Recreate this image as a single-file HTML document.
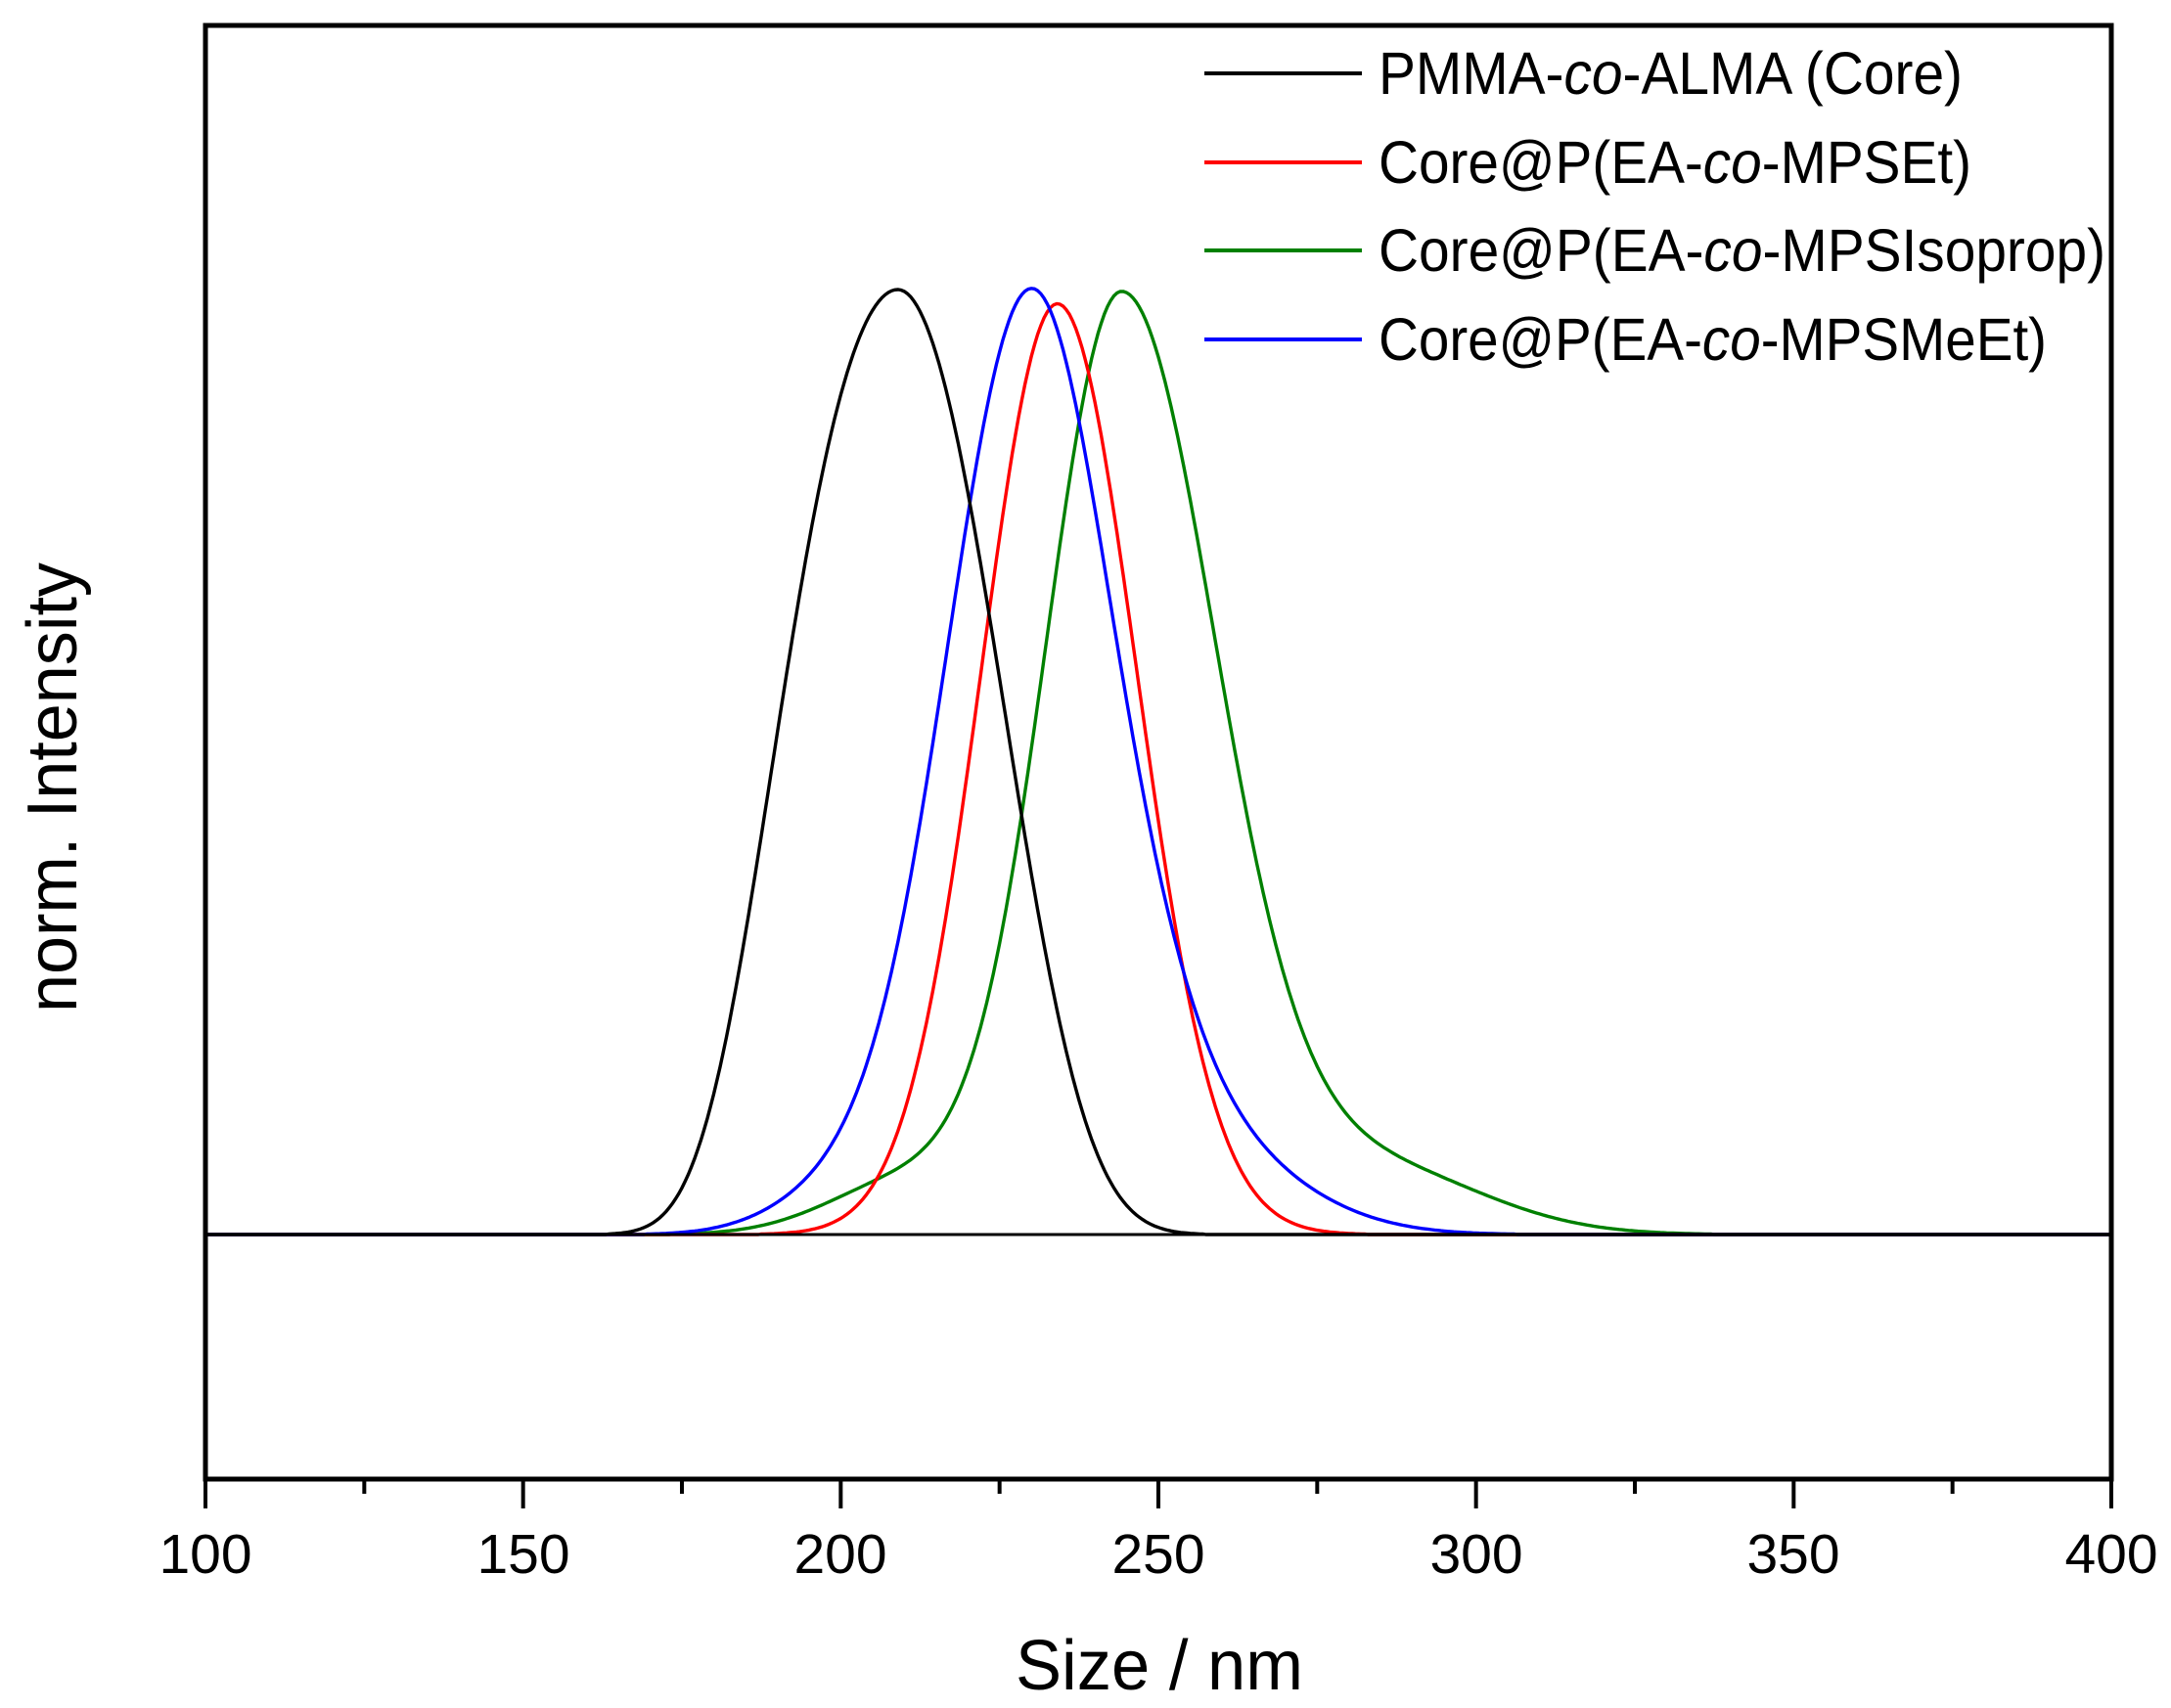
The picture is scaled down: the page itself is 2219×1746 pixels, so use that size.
<!DOCTYPE html>
<html><head><meta charset="utf-8"><style>html,body{margin:0;padding:0;background:#fff}svg{display:block}</style></head>
<body>
<svg id="s" width="2219" height="1746" viewBox="0 0 2219 1746" xmlns="http://www.w3.org/2000/svg" font-family="Liberation Sans, Arial, sans-serif">
<rect width="2219" height="1746" fill="#fff"/>
<g id="curves" fill="none" stroke-width="3.4"></g>
<line x1="210" y1="1262" x2="2158" y2="1262" stroke="#000" stroke-width="3"/>
<rect x="210" y="26" width="1948" height="1486" fill="none" stroke="#000" stroke-width="5"/>
<g id="ticks" stroke="#000" stroke-width="4"></g>
<g font-size="57" text-anchor="middle" fill="#000">
<text x="210" y="1608">100</text><text x="535" y="1608">150</text><text x="859" y="1608">200</text>
<text x="1184" y="1608">250</text><text x="1509" y="1608">300</text><text x="1833" y="1608">350</text><text x="2158" y="1608">400</text>
</g>
<text x="1185" y="1727" font-size="72" text-anchor="middle" textLength="294" lengthAdjust="spacingAndGlyphs">Size / nm</text>
<text transform="translate(78,805) rotate(-90)" font-size="72" text-anchor="middle" textLength="460" lengthAdjust="spacingAndGlyphs">norm. Intensity</text>
<g stroke-width="4">
<line x1="1231" y1="75" x2="1392" y2="75" stroke="#000"/>
<line x1="1231" y1="166" x2="1392" y2="166" stroke="#f00"/>
<line x1="1231" y1="256" x2="1392" y2="256" stroke="#008000"/>
<line x1="1231" y1="347" x2="1392" y2="347" stroke="#00f"/>
</g>
<g font-size="61" fill="#000">
<text x="1409" y="96" textLength="597" lengthAdjust="spacingAndGlyphs">PMMA-<tspan font-style="italic">co</tspan>-ALMA (Core)</text>
<text x="1409" y="187" textLength="606" lengthAdjust="spacingAndGlyphs">Core@P(EA-<tspan font-style="italic">co</tspan>-MPSEt)</text>
<text x="1409" y="277" textLength="743" lengthAdjust="spacingAndGlyphs">Core@P(EA-<tspan font-style="italic">co</tspan>-MPSIsoprop)</text>
<text x="1409" y="368" textLength="683" lengthAdjust="spacingAndGlyphs">Core@P(EA-<tspan font-style="italic">co</tspan>-MPSMeEt)</text>
</g>
</svg>
<script>
var X=function(v){return 210+(v-100)*6.4933};
var Y=function(u){return 1262-u*966};
function pk(x,m,hl,hr,kl,kr){var l=x<m;var h=l?hl:hr,k=l?kl:kr;var z=Math.abs(x-m)/h;var c=0.6931/(1+k);return Math.exp(-c*(z*z+k*z*z*z*z));}
function g(x,m,s){return Math.exp(-0.5*((x-m)/s)*((x-m)/s));}
function sg(x,c,w){return 1/(1+Math.exp(-(x-c)/w));}
var series=[
 ["#008000",function(x){return 0.998*pk(x,244.2,14.4,17.9,0,0)+0.055*g(x,210,12)*(1-sg(x,228,4))+0.07*g(x,284,17)*sg(x,266,6);}],
 ["#f00",function(x){return 0.985*pk(x,234.1,14.1,14.7,0,0);}],
 ["#00f",function(x){return 1.0*pk(x,230,15.9,15.6,0,0)+0.03*g(x,198,10)*(1-sg(x,212,4))+0.1*g(x,254,16)*sg(x,246,5);}],
 ["#000",function(x){return 1.0*pk(x,209,19.7,18.1,0.3,0.1);}]
];
var G=document.getElementById("curves"),ns="http://www.w3.org/2000/svg";
series.forEach(function(s){var d="";for(var x=100;x<=400;x+=0.5){var v=s[1](x);if(v<0.0005)v=0;d+=(x==100?"M":"L")+X(x).toFixed(1)+","+Y(v).toFixed(1);}
var p=document.createElementNS(ns,"path");p.setAttribute("d",d);p.setAttribute("stroke",s[0]);G.appendChild(p);});
var T=document.getElementById("ticks");
for(var v=100;v<=400;v+=25){var l=document.createElementNS(ns,"line");var x=X(v);l.setAttribute("x1",x);l.setAttribute("x2",x);l.setAttribute("y1",1512);l.setAttribute("y2",v%50==0?1542:1527);T.appendChild(l);}
</script>
</body></html>
